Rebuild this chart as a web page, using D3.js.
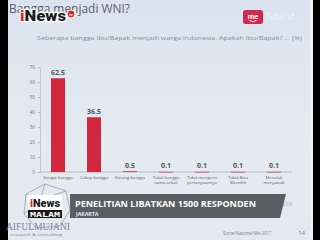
<!DOCTYPE html>
<html>
<head>
<meta charset="utf-8">
<script src="https://cdn.jsdelivr.net/npm/d3@7"></script>
<style>
  html, body { margin: 0; padding: 0; background: #000; }
  svg { display: block; }
</style>
</head>
<body>
<svg class="chart" width="320" height="240"></svg>
<script>
// chart data
var categories = ["Sangat bangga", "Cukup bangga", "Kurang bangga", "Tidak bangga|sama sekali",
                  "Tidak mengerti|pertanyaannya", "Tidak Bisa|Memilih", "Menolak|menjawab"];
var values = [62.5, 36.5, 0.5, 0.1, 0.1, 0.1, 0.1];
var valueLabels = ["62.5", "36.5", "0.5", "0.1", "0.1", "0.1", "0.1"];
var yTicks = [0, 10, 20, 30, 40, 50, 60, 70];

var title = "Bangga menjadi WNI?";
var subtitle = "Seberapa bangga Ibu/Bapak menjadi warga Indonesia, Apakah Ibu/Bapak?  ... (%)";
var headline = "PENELITIAN LIBATKAN 1500 RESPONDEN";
var place = "JAKARTA";
var source = "Survei Nasional Mei 2017";
var pageNo = "14";

var svg = d3.select(".chart");
var width = +svg.attr("width"), height = +svg.attr("height");

var defs = svg.append("defs");
var bg = defs.append("linearGradient").attr("id", "bg").attr("x1", 0).attr("y1", 0).attr("x2", 0).attr("y2", 1);
bg.append("stop").attr("offset", "0").attr("stop-color", "#dae3ee");
bg.append("stop").attr("offset", "0.6").attr("stop-color", "#e6ebf1");
bg.append("stop").attr("offset", "1").attr("stop-color", "#e4e9f0");

// screen area between black borders
svg.append("rect").attr("x", 8).attr("y", 0).attr("width", 305).attr("height", height).attr("fill", "url(#bg)");
svg.append("rect").attr("x", 310).attr("y", 0).attr("width", 3).attr("height", height).attr("fill", "#eef1f5");

// title + subtitle
svg.append("text").attr("x", 9).attr("y", 13).attr("font-family", "Open Sans").attr("font-size", 13)
    .attr("fill", "#5c6066").attr("textLength", 121).attr("lengthAdjust", "spacingAndGlyphs").text(title);
svg.append("text").attr("x", 37).attr("y", 40).attr("font-family", "Open Sans").attr("font-size", 5.6)
    .attr("fill", "#8a9098").attr("textLength", 265).attr("lengthAdjust", "spacingAndGlyphs").text(subtitle);

// scales
var x = d3.scalePoint().domain(categories).range([40, 292]).padding(0.5);
var y = d3.scaleLinear().domain([0, 70]).range([172, 67]);

var yAxis = svg.append("g").attr("transform", "translate(40,0)")
    .call(d3.axisLeft(y).tickValues(yTicks).tickSize(2).tickPadding(3));
yAxis.select(".domain").attr("stroke", "#c2c8d0");
yAxis.selectAll(".tick line").attr("stroke", "#b0b6be");
yAxis.selectAll(".tick text").attr("font-family", "Open Sans").attr("font-size", 4.6).attr("fill", "#6a7078");

// baseline
svg.append("line").attr("x1", 40).attr("x2", 292).attr("y1", y(0)).attr("y2", y(0))
    .attr("stroke", "#a8aeb6").attr("stroke-width", 0.8);

var bw = 14;
svg.append("g").selectAll("rect").data(values).enter().append("rect")
    .attr("x", function(d, i) { return x(categories[i]) - bw / 2; })
    .attr("y", function(d) { return y(d); })
    .attr("width", bw)
    .attr("height", function(d) { return Math.max(y(0) - y(d), 0.6); })
    .attr("fill", "#d1283d");

svg.append("g").selectAll("text").data(values).enter().append("text")
    .attr("x", function(d, i) { return x(categories[i]); })
    .attr("y", function(d) { return y(d) - 3.5; })
    .attr("text-anchor", "middle").attr("font-family", "Open Sans").attr("font-weight", "bold")
    .attr("font-size", 7).attr("fill", "#50565e")
    .text(function(d, i) { return valueLabels[i]; });

var xl = svg.append("g").selectAll("text").data(categories).enter().append("text")
    .attr("x", function(d) { return x(d); })
    .attr("y", 179)
    .attr("text-anchor", "middle").attr("font-family", "Open Sans").attr("font-size", 4.3).attr("fill", "#5a6068");
xl.each(function(d) {
    var parts = d.split("|");
    var t = d3.select(this);
    parts.forEach(function(p, k) {
        t.append("tspan").attr("x", x(d)).attr("dy", k ? 5 : 0).text(p);
    });
});

// top-left channel logo
var logo = svg.append("g");
logo.append("text").attr("x", 20).attr("y", 21).attr("font-family", "Roboto").attr("font-weight", "900")
    .attr("font-size", 15).attr("stroke", "#fff").attr("stroke-width", 2.5).attr("paint-order", "stroke")
    .attr("textLength", 46).attr("lengthAdjust", "spacingAndGlyphs")
    .html('<tspan fill="#e0222e">i</tspan><tspan fill="#1c1c1c">News</tspan>');
logo.append("circle").attr("cx", 71).attr("cy", 14).attr("r", 4).attr("fill", "#d8222e").attr("stroke", "#fff").attr("stroke-width", 1);
logo.append("text").attr("x", 71).attr("y", 15.5).attr("text-anchor", "middle").attr("font-family", "Roboto")
    .attr("font-weight", "bold").attr("font-size", 4).attr("fill", "#fff").text("tv");

// top-right watermark
svg.append("rect").attr("x", 243).attr("y", 10).attr("width", 20).attr("height", 14).attr("rx", 2.5).attr("fill", "#d22a4e");
svg.append("text").attr("x", 253).attr("y", 19).attr("text-anchor", "middle").attr("font-family", "Roboto")
    .attr("font-weight", "bold").attr("font-size", 7.5).attr("fill", "#fff").text("me");
svg.append("path").attr("d", "M249.5,20.5 Q253,23 256.5,20.5").attr("fill", "none").attr("stroke", "#fff").attr("stroke-width", 0.9);
svg.append("text").attr("x", 265).attr("y", 20).attr("font-family", "Roboto").attr("font-size", 9)
    .attr("fill", "#ffffff").attr("fill-opacity", 0.55).text("Tube.id");

// lower third banner
svg.append("text").attr("x", 258).attr("y", 206).attr("font-family", "Open Sans").attr("font-size", 8)
    .attr("fill", "#b8bec6").text("ndonesia");
var banner = svg.append("g");
banner.append("path").attr("d", "M70,194 L286,194 L280,218 L70,218 Z").attr("fill", "#54575b").attr("fill-opacity", 0.96);
banner.append("text").attr("x", 75).attr("y", 207).attr("font-family", "Open Sans").attr("font-weight", "bold")
    .attr("font-size", 9).attr("fill", "#fff").attr("textLength", 181).attr("lengthAdjust", "spacingAndGlyphs").text(headline);
banner.append("text").attr("x", 76).attr("y", 216).attr("font-family", "Open Sans").attr("font-weight", "bold")
    .attr("font-size", 5.2).attr("fill", "#e8e8e8").text(place);

// show logo with wire shape
var wire = svg.append("g").attr("fill", "none").attr("stroke", "#9aa0a8").attr("stroke-width", 0.8);
wire.append("path").attr("d", "M45,184 L66,191 L70,210 L60,226 L36,228 L24,214 L26,194 Z");
wire.append("path").attr("d", "M45,184 L40,200 L66,191 M40,200 L26,194 M40,200 L24,214");
svg.append("rect").attr("x", 28).attr("y", 195).attr("width", 34).attr("height", 15).attr("fill", "#fff");
svg.append("text").attr("x", 30).attr("y", 207).attr("font-family", "Roboto").attr("font-weight", "900")
    .attr("font-size", 11).attr("textLength", 30).attr("lengthAdjust", "spacingAndGlyphs")
    .html('<tspan fill="#e0222e">i</tspan><tspan fill="#1c1c1c">News</tspan>');
svg.append("rect").attr("x", 28).attr("y", 210).attr("width", 34).attr("height", 8).attr("fill", "#1a1a1a");
svg.append("text").attr("x", 45).attr("y", 216.5).attr("text-anchor", "middle").attr("font-family", "DejaVu Sans Mono")
    .attr("font-weight", "bold").attr("font-size", 7).attr("fill", "#fff").attr("textLength", 30)
    .attr("lengthAdjust", "spacingAndGlyphs").text("MALAM");

svg.append("text").attr("x", 6).attr("y", 230).attr("font-family", "Liberation Serif").attr("font-size", 9.5)
    .attr("fill", "#7a82a0").attr("textLength", 64).attr("lengthAdjust", "spacingAndGlyphs").text("AIFULMUJANI");
svg.append("text").attr("x", 10).attr("y", 235.5).attr("font-family", "Open Sans").attr("font-size", 2.6)
    .attr("fill", "#7a82a0").attr("textLength", 52).attr("lengthAdjust", "spacingAndGlyphs").text("research & consulting");

// footer
svg.append("text").attr("x", 223).attr("y", 235).attr("font-family", "Open Sans").attr("font-size", 6)
    .attr("fill", "#6b83a8").attr("textLength", 48).attr("lengthAdjust", "spacingAndGlyphs").text(source);
svg.append("text").attr("x", 305).attr("y", 235).attr("text-anchor", "end").attr("font-family", "Open Sans").attr("font-size", 6)
    .attr("fill", "#6b83a8").text(pageNo);
</script>
</body>
</html>
